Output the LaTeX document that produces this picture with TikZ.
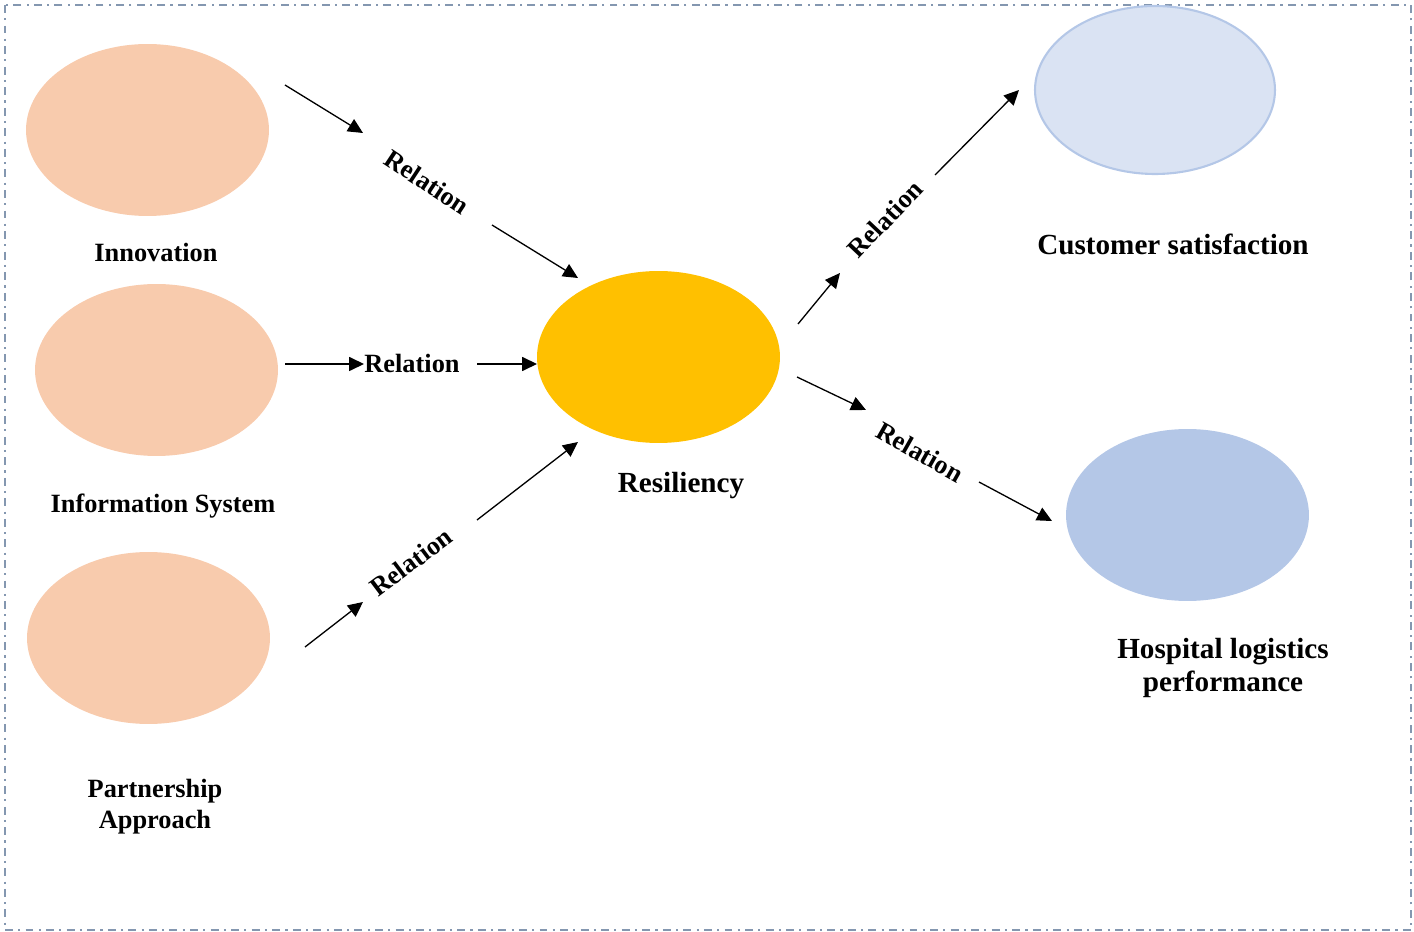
\documentclass[tikz,border=0pt]{standalone}
\usepackage{fontspec}
\setmainfont{Liberation Serif}
\usetikzlibrary{arrows.meta,shapes.geometric}
\definecolor{cpeach}{RGB}{248,203,173}
\definecolor{cgold}{RGB}{255,192,0}
\definecolor{clightblue}{RGB}{218,227,243}
\definecolor{cblue}{RGB}{180,199,231}
\definecolor{cframe}{RGB}{132,151,176}

\begin{document}
\begin{tikzpicture}[x=0.02cm,y=-0.02cm,>={Triangle[length=8.5pt,width=8pt]},
  construct/.style={ellipse,minimum width=4.86cm,minimum height=3.44cm,inner sep=0pt},
  rel/.style={font=\bfseries\fontsize{15}{18}\selectfont,inner sep=0pt},
  lab/.style={font=\bfseries\fontsize{15}{17.6}\selectfont,align=center},
  labr/.style={font=\bfseries\fontsize{16.6}{18.7}\selectfont,align=center},
  relarrow/.style={->,line width=0.75pt}]
\useasboundingbox (0,0) rectangle (1414,932);
% ---------- frame ----------
\draw[cframe,line width=1.2pt,dash pattern=on 4.5pt off 3pt on 1.2pt off 3pt] (5,5) rectangle (1411,930);
% ---------- constructs ----------
\node[construct,fill=cpeach] (inno) at (147.5,130) {};
\node[construct,fill=cpeach] (infosys) at (156.5,370) {};
\node[construct,fill=cpeach] (partner) at (148.5,638) {};
\node[construct,fill=cgold] (resil) at (658.5,357) {};
\node[construct,fill=clightblue,draw=cblue,line width=1.2pt,minimum width=4.8cm,minimum height=3.36cm] (custsat) at (1155,90) {};
\node[construct,fill=cblue] (hosp) at (1187.5,515) {};
% ---------- labels ----------
\node[lab] (innolab) at (156,252) {Innovation};
\node[lab] (infolab) at (163,506) {Information System};
\node[lab] (partlab) at (155,807) {Partnership\\Approach};
\node[labr] (resillab) at (681,486) {Resiliency};
\node[labr] (custlab) at (1173,244) {Customer satisfaction};
\node[labr] (hosplab) at (1223,668) {Hospital logistics\\performance};
% ---------- relations ----------
\node[rel,rotate=-33.4] (rinno) at (427,182) {Relation};
\node[rel] (rinfo) at (412,363) {Relation};
\node[rel,rotate=36.9] (rpart) at (411,562) {Relation};
\node[rel,rotate=46.6] (rcust) at (885,219) {Relation};
\node[rel,rotate=-29.5] (rhosp) at (920,452) {Relation};
% ---------- arrow ends ----------
\coordinate (a1) at (285,85);   \coordinate (b1) at (363,133);
\coordinate (c1) at (492,225);  \coordinate (d1) at (578,278);
\coordinate (a2) at (285,364);  \coordinate (b2) at (364,364);
\coordinate (c2) at (477,364);  \coordinate (d2) at (537,364);
\coordinate (a3) at (305,647);  \coordinate (b3) at (363,602);
\coordinate (c3) at (477,520);  \coordinate (d3) at (578,442);
\coordinate (a4) at (798,324);  \coordinate (b4) at (840,273);
\coordinate (c4) at (935,175);  \coordinate (d4) at (1019,90);
\coordinate (a5) at (797,377);  \coordinate (b5) at (866,410);
\coordinate (c5) at (979,482);  \coordinate (d5) at (1052,521);
\foreach \i in {1,...,5}{
  \draw[relarrow] (a\i) -- (b\i);
  \draw[relarrow] (c\i) -- (d\i);}
\end{tikzpicture}
\end{document}
